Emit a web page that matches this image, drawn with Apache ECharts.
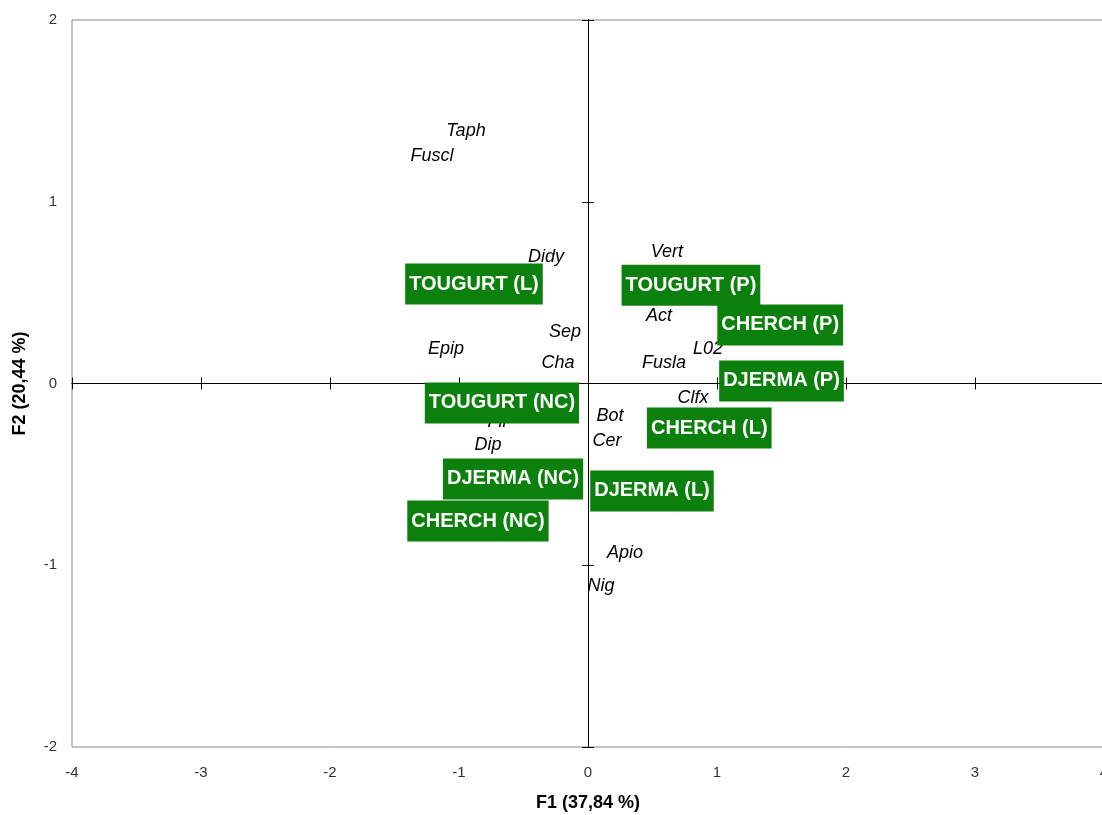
<!DOCTYPE html>
<html><head><meta charset="utf-8">
<script src="https://cdn.jsdelivr.net/npm/echarts@6/dist/echarts.min.js"></script>
<style>html,body{margin:0;padding:0;background:#fff}#c{width:1102px;height:815px}</style>
</head><body><div id="c"></div>
<script>
// Variables (species) — italic labels
const speciesNames = ['Taph','Fuscl','Didy','Vert','Act','Sep','Epip','Cha','Fusla','L02','Clfx','Bot','Cer','Fil','Dip','Apio','Nig'];
const speciesF1 = [-0.946,-1.209,-0.326,0.612,0.550,-0.178,-1.101,-0.233,0.589,0.930,0.814,0.171,0.147,-0.705,-0.775,0.287,0.101];
const speciesF2 = [1.389,1.252,0.696,0.723,0.371,0.283,0.190,0.113,0.113,0.190,-0.080,-0.179,-0.316,-0.212,-0.338,-0.933,-1.114];
// Observations (sites) — green boxes
const siteNames = ['TOUGURT (L)','TOUGURT (P)','CHERCH (P)','DJERMA (P)','TOUGURT (NC)','CHERCH (L)','DJERMA (NC)','DJERMA (L)','CHERCH (NC)'];
const siteF1 = [-0.884,0.798,1.490,1.500,-0.667,0.940,-0.581,0.496,-0.853];
const siteF2 = [0.547,0.540,0.322,0.014,-0.107,-0.245,-0.525,-0.591,-0.757];
const axisMin = -4, axisMax = 4, yMin = -2, yMax = 2;
const xTitle = 'F1 (37,84 %)', yTitle = 'F2 (20,44 %)';

const FONT = "'Liberation Sans', Arial, sans-serif";
const chart = echarts.init(document.getElementById('c'), null, {renderer:'canvas'});
const mkX = (extra) => Object.assign({type:'value', min:axisMin, max:axisMax, interval:1, splitLine:{show:false}, gridIndex:0}, extra);
const mkY = (extra) => Object.assign({type:'value', min:yMin, max:yMax, interval:1, splitLine:{show:false}, gridIndex:0}, extra);
const zeroLine = {show:true, onZero:true, onZeroAxisIndex:0, lineStyle:{color:'#000', width:1}};
chart.setOption({
  animation:false,
  grid:{left:72, right:-2, top:20, bottom:68, show:true, borderColor:'#888', borderWidth:1, backgroundColor:'#fff',
    outerBoundsMode:'none', containLabel:false},
  xAxis:[
    mkX({position:'bottom', axisLine:{show:false, onZero:false}, axisTick:{show:false},
      axisLabel:{color:'#333', fontFamily:FONT, fontSize:15, margin:18},
      name:xTitle, nameLocation:'middle', nameGap:47,
      nameTextStyle:{color:'#000', fontFamily:FONT, fontSize:18, fontWeight:'bold'}}),
    mkX({axisLine:zeroLine, axisTick:{show:true, inside:false, length:6, lineStyle:{color:'#000'}}, axisLabel:{show:false}}),
    mkX({axisLine:zeroLine, axisTick:{show:true, inside:true, length:6, lineStyle:{color:'#000'}}, axisLabel:{show:false}})
  ],
  yAxis:[
    mkY({position:'left', axisLine:{show:false, onZero:false}, axisTick:{show:false},
      axisLabel:{color:'#333', fontFamily:FONT, fontSize:15, margin:15},
      name:yTitle, nameLocation:'middle', nameGap:43, nameRotate:90,
      nameTextStyle:{color:'#000', fontFamily:FONT, fontSize:18, fontWeight:'bold'}}),
    mkY({axisLine:zeroLine, axisTick:{show:true, inside:false, length:6, lineStyle:{color:'#000'}}, axisLabel:{show:false}}),
    mkY({axisLine:zeroLine, axisTick:{show:true, inside:true, length:6, lineStyle:{color:'#000'}}, axisLabel:{show:false}})
  ],
  series:[
    {type:'scatter', xAxisIndex:0, yAxisIndex:0, symbolSize:0, z:3, itemStyle:{opacity:1},
      data: speciesNames.map((n,i)=>({name:n, value:[speciesF1[i], speciesF2[i]]})),
      label:{show:true, position:'inside', formatter:'{b}', color:'#000', opacity:1, fontFamily:FONT, fontSize:18, fontStyle:'italic'},
      emphasis:{disabled:true}},
    {type:'scatter', xAxisIndex:0, yAxisIndex:0, symbolSize:0, z:4, itemStyle:{opacity:1},
      data: siteNames.map((n,i)=>({name:n, value:[siteF1[i], siteF2[i]]})),
      label:{show:true, position:'inside', formatter:'{b}', color:'#fff', opacity:1, fontFamily:FONT, fontSize:20, fontWeight:'bold',
        backgroundColor:'#0c800c', padding:[9,4,9,4], lineHeight:23},
      emphasis:{disabled:true}}
  ]
});
</script></body></html>
